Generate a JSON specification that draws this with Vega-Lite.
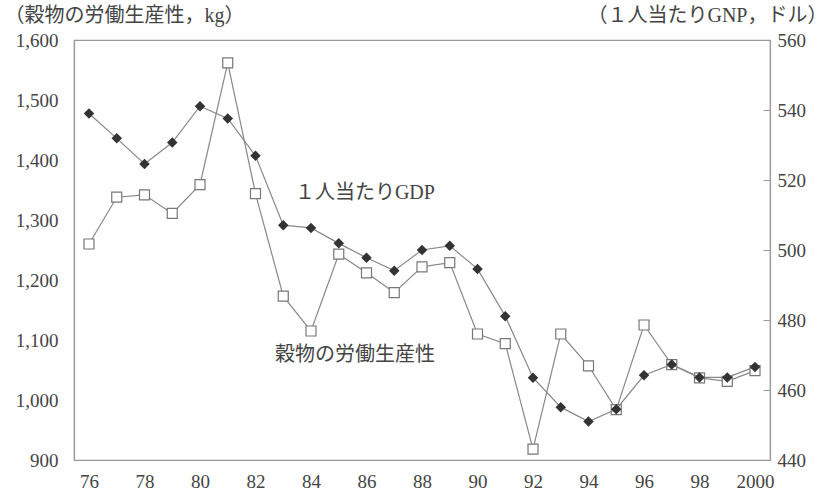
{
  "$schema": "https://vega.github.io/schema/vega-lite/v6.json",
  "width": 696,
  "height": 420,
  "autosize": "none",
  "padding": {"left": 74, "top": 40, "right": 59, "bottom": 35},
  "background": "white",
  "config": {
    "view": {"stroke": "#999", "strokeWidth": 1.2},
    "axis": {
      "domainColor": "#999",
      "domainWidth": 1.2,
      "grid": false,
      "labelFont": "Liberation Serif",
      "labelFontSize": 19,
      "labelColor": "#444",
      "titleFont": "Liberation Serif, Noto Sans CJK JP",
      "titleFontSize": 20,
      "titleFontWeight": "normal",
      "titleColor": "#444"
    }
  },
  "datasets": {
    "series": [
      {"year": 1976, "grain": 1260, "gnp": 539.0},
      {"year": 1977, "grain": 1338, "gnp": 531.9},
      {"year": 1978, "grain": 1342, "gnp": 524.6},
      {"year": 1979, "grain": 1311, "gnp": 530.7},
      {"year": 1980, "grain": 1359, "gnp": 541.1},
      {"year": 1981, "grain": 1562, "gnp": 537.6},
      {"year": 1982, "grain": 1344, "gnp": 526.9},
      {"year": 1983, "grain": 1173, "gnp": 507.1},
      {"year": 1984, "grain": 1115, "gnp": 506.3},
      {"year": 1985, "grain": 1243, "gnp": 501.9},
      {"year": 1986, "grain": 1212, "gnp": 497.8},
      {"year": 1987, "grain": 1179, "gnp": 494.1},
      {"year": 1988, "grain": 1222, "gnp": 500.0},
      {"year": 1989, "grain": 1229, "gnp": 501.2},
      {"year": 1990, "grain": 1110, "gnp": 494.6},
      {"year": 1991, "grain": 1094, "gnp": 481.1},
      {"year": 1992, "grain": 918, "gnp": 463.5},
      {"year": 1993, "grain": 1110, "gnp": 455.1},
      {"year": 1994, "grain": 1057, "gnp": 451.0},
      {"year": 1995, "grain": 984, "gnp": 454.5},
      {"year": 1996, "grain": 1125, "gnp": 464.2},
      {"year": 1997, "grain": 1059, "gnp": 467.3},
      {"year": 1998, "grain": 1037, "gnp": 463.6},
      {"year": 1999, "grain": 1031, "gnp": 463.6},
      {"year": 2000, "grain": 1049, "gnp": 466.6}
    ],
    "labels": [
      {"year": 1983.42, "grain": 1345, "label": "１人当たりGDP"},
      {"year": 1982.7, "grain": 1075, "label": "穀物の労働生産性"}
    ]
  },
  "encoding": {
    "x": {
      "field": "year",
      "type": "quantitative",
      "scale": {"domain": [1975.46, 2000.54], "nice": false, "zero": false},
      "axis": {
        "values": [1976, 1978, 1980, 1982, 1984, 1986, 1988, 1990, 1992, 1994, 1996, 1998, 2000],
        "labelExpr": "datum.value == 2000 ? '2000' : slice(toString(datum.value), 2)",
        "ticks": false,
        "labelPadding": 12,
        "title": null
      }
    }
  },
  "layer": [
    {
      "data": {"name": "series"},
      "layer": [
        {
          "mark": {"type": "line", "color": "#888", "strokeWidth": 1.2},
          "encoding": {
            "y": {
              "field": "grain",
              "type": "quantitative",
              "scale": {"domain": [900, 1600], "nice": false, "zero": false},
              "axis": {
                "orient": "left",
                "values": [900, 1000, 1100, 1200, 1300, 1400, 1500, 1600],
                "format": ",d",
                "ticks": false,
                "labelPadding": 16,
                "title": "（穀物の労働生産性，kg）",
                "titleAngle": 0,
                "titleAlign": "left",
                "titleBaseline": "middle",
                "titleX": -70,
                "titleY": -25
              }
            }
          }
        },
        {
          "mark": {"type": "point", "shape": "square", "size": 100, "filled": true, "fill": "white", "stroke": "#777", "strokeWidth": 1.2, "opacity": 1},
          "encoding": {
            "y": {"field": "grain", "type": "quantitative"}
          }
        },
        {
          "data": {"name": "labels"},
          "mark": {"type": "text", "align": "left", "baseline": "middle", "font": "Liberation Serif, Noto Sans CJK JP", "fontSize": 20, "color": "#444"},
          "encoding": {
            "y": {"field": "grain", "type": "quantitative"},
            "text": {"field": "label"}
          }
        }
      ]
    },
    {
      "data": {"name": "series"},
      "layer": [
        {
          "mark": {"type": "line", "color": "#888", "strokeWidth": 1.2},
          "encoding": {
            "y": {
              "field": "gnp",
              "type": "quantitative",
              "scale": {"domain": [440, 560], "nice": false, "zero": false},
              "axis": {
                "orient": "right",
                "values": [440, 460, 480, 500, 520, 540, 560],
                "tickSize": -7,
                "tickColor": "#999",
                "labelPadding": 14,
                "title": "（１人当たりGNP，ドル）",
                "titleAngle": 0,
                "titleAlign": "right",
                "titleBaseline": "middle",
                "titleX": 57,
                "titleY": -25
              }
            }
          }
        },
        {
          "mark": {"type": "point", "shape": "diamond", "size": 110, "filled": true, "color": "#333", "opacity": 1},
          "encoding": {
            "y": {"field": "gnp", "type": "quantitative"}
          }
        }
      ]
    }
  ],
  "resolve": {"scale": {"y": "independent"}}
}
